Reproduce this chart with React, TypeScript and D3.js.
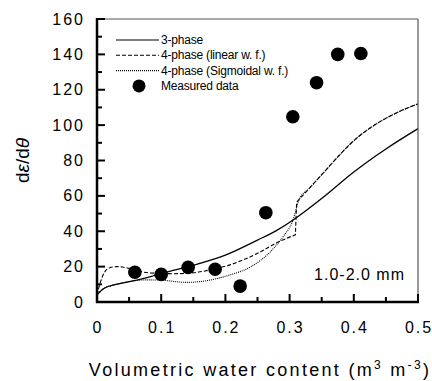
import { useEffect, useRef } from 'react'
import * as d3 from 'd3'

// 3-phase model
const threePhaseX = [0, 0.01, 0.03, 0.05, 0.075, 0.09, 0.12, 0.15, 0.2, 0.25, 0.28, 0.31, 0.35, 0.4, 0.45, 0.5]
const threePhaseY = [4, 7.5, 10, 11.5, 13.5, 15, 18, 20.8, 26.5, 35, 40.5, 47.5, 58.5, 73.5, 86.5, 98]

// 4-phase, linear weighting function (jumps at 0.31)
const linearX = [0, 0.006, 0.012, 0.02, 0.032, 0.05, 0.065, 0.08, 0.1, 0.12, 0.15, 0.18, 0.207, 0.25, 0.28, 0.309, 0.311, 0.33, 0.355, 0.38, 0.404, 0.43, 0.467, 0.5]
const linearY = [4, 12, 17, 19.4, 20, 19, 17.5, 16.5, 16.2, 16, 16.5, 18.5, 21, 27.5, 33.5, 38, 56.5, 64, 74, 84, 92.5, 99.5, 107, 112]

// 4-phase, sigmoidal weighting function
const sigmoidX = [0, 0.01, 0.03, 0.05, 0.075, 0.1, 0.12, 0.14, 0.16, 0.176, 0.207, 0.24, 0.27, 0.29, 0.305, 0.315, 0.33, 0.355, 0.38, 0.404, 0.43, 0.467, 0.5]
const sigmoidY = [4, 7.5, 10, 11.5, 12.5, 12.4, 11.6, 11.1, 11.5, 12.4, 15.3, 20, 28.4, 37, 46, 58, 64, 74, 84, 92.5, 99.5, 107, 112]

// measured data
const measuredX = [0.059, 0.1, 0.142, 0.184, 0.223, 0.263, 0.305, 0.342, 0.375, 0.411]
const measuredY = [16.8, 15.6, 19.6, 18.5, 9, 50.5, 104.7, 124, 140, 140.5]

const xTicks = [0, 0.1, 0.2, 0.3, 0.4, 0.5]
const yTicks = [0, 20, 40, 60, 80, 100, 120, 140, 160]

const legendItems = [
  { label: '3-phase', dash: null, marker: false },
  { label: '4-phase (linear w. f.)', dash: '4,2', marker: false },
  { label: '4-phase (Sigmoidal w. f.)', dash: '1,1', marker: false },
  { label: 'Measured data', dash: null, marker: true }
]

const W = 432
const H = 381
const FONT = 'Liberation Sans, Arial, sans-serif'

export default function App() {
  const svgRef = useRef<SVGSVGElement>(null)

  useEffect(() => {
    if (!svgRef.current) return
    const svg = d3.select(svgRef.current)
    svg.selectAll('*').remove()

    const margin = { top: 19, right: 14, bottom: 79, left: 97 }
    const x = d3.scaleLinear().domain([0, 0.5]).range([margin.left, W - margin.right])
    const y = d3.scaleLinear().domain([0, 160]).range([H - margin.bottom, margin.top])

    const line = d3.line<[number, number]>()
      .x(d => x(d[0]))
      .y(d => y(d[1]))
      .curve(d3.curveMonotoneX)

    // split at jumps so the spline does not wobble around them
    const pathFor = (pts: [number, number][]) => {
      const runs: [number, number][][] = [[pts[0]]]
      for (let i = 1; i < pts.length; i++) {
        if (pts[i][0] - pts[i - 1][0] < 0.004) runs.push([])
        runs[runs.length - 1].push(pts[i])
      }
      return runs.map((r, i) => {
        const d = line(r) || ''
        return i === 0 ? d : 'L' + d.slice(1)
      }).join('')
    }

    const series = [
      { xs: threePhaseX, ys: threePhaseY, dash: null },
      { xs: linearX, ys: linearY, dash: '4,2' },
      { xs: sigmoidX, ys: sigmoidY, dash: '1,1' }
    ]

    series.forEach(s => {
      const pts = s.xs.map((v, i) => [v, s.ys[i]] as [number, number])
      svg.append('path')
        .attr('d', pathFor(pts))
        .style('fill', 'none')
        .style('stroke', '#000')
        .style('stroke-width', s.dash ? '1.1px' : '1.3px')
        .style('stroke-dasharray', s.dash ?? 'none')
    })

    // Measured points
    svg.selectAll('.pt')
      .data(measuredX.map((v, i) => [v, measuredY[i]]))
      .join('circle')
      .attr('class', 'pt')
      .attr('cx', d => x(d[0]))
      .attr('cy', d => y(d[1]))
      .attr('r', 6.8)
      .style('fill', '#000')

    // Frame: thin top/right, thick left/bottom
    svg.append('line')
      .attr('x1', x(0)).attr('x2', x(0.5)).attr('y1', y(160)).attr('y2', y(160))
      .style('stroke', '#555').style('stroke-width', '1px')
    svg.append('line')
      .attr('x1', x(0.5)).attr('x2', x(0.5)).attr('y1', y(160)).attr('y2', y(0))
      .style('stroke', '#555').style('stroke-width', '1.2px')

    // Minor / major ticks
    d3.range(10, 160, 20).forEach(v => {
      svg.append('line')
        .attr('x1', x(0)).attr('x2', x(0) + 5).attr('y1', y(v)).attr('y2', y(v))
        .style('stroke', '#000').style('stroke-width', '2px')
    })
    yTicks.forEach(v => {
      svg.append('line')
        .attr('x1', x(0)).attr('x2', x(0) + 8).attr('y1', y(v)).attr('y2', y(v))
        .style('stroke', '#000').style('stroke-width', '2px')
      svg.append('text')
        .attr('x', x(0) - 12)
        .attr('y', y(v) + 5.5)
        .attr('text-anchor', 'end')
        .style('font-family', FONT)
        .style('font-size', '16px')
        .style('letter-spacing', '2px')
        .style('fill', '#000')
        .text(v)
    })
    d3.range(0.05, 0.5, 0.1).forEach(v => {
      svg.append('line')
        .attr('x1', x(v)).attr('x2', x(v)).attr('y1', y(0)).attr('y2', y(0) - 5)
        .style('stroke', '#000').style('stroke-width', '2px')
    })
    xTicks.forEach(v => {
      svg.append('line')
        .attr('x1', x(v)).attr('x2', x(v)).attr('y1', y(0)).attr('y2', y(0) - 8)
        .style('stroke', '#000').style('stroke-width', '2px')
      svg.append('text')
        .attr('x', x(v) + 1)
        .attr('y', y(0) + 31)
        .attr('text-anchor', 'middle')
        .style('font-family', FONT)
        .style('font-size', '16px')
        .style('letter-spacing', '2px')
        .style('fill', '#000')
        .text(v === 0 ? '0' : String(v))
    })

    svg.append('line')
      .attr('x1', x(0)).attr('x2', x(0)).attr('y1', y(160) - 1).attr('y2', y(0) + 1)
      .style('stroke', '#000').style('stroke-width', '2.5px')
    svg.append('line')
      .attr('x1', x(0) - 1).attr('x2', x(0.5) + 1).attr('y1', y(0)).attr('y2', y(0))
      .style('stroke', '#000').style('stroke-width', '2.5px')

    // Axis titles
    const xt = svg.append('text')
      .attr('x', 260)
      .attr('y', 376)
      .attr('text-anchor', 'middle')
      .style('font-family', FONT)
      .style('font-size', '18px')
      .style('letter-spacing', '2.3px')
      .style('fill', '#000')
    xt.append('tspan').text('Volumetric water content (m')
    xt.append('tspan').attr('dy', -7).style('font-size', '12px').text('3')
    xt.append('tspan').attr('dy', 7).text(' m')
    xt.append('tspan').attr('dy', -7).style('font-size', '12px').text('-3')
    xt.append('tspan').attr('dy', 7).text(')')

    const yt = svg.append('text')
      .attr('transform', `translate(29,${(y(0) + y(160)) / 2}) rotate(-90)`)
      .attr('text-anchor', 'middle')
      .style('font-family', FONT)
      .style('font-size', '19px')
      .style('fill', '#000')
    yt.append('tspan').text('d')
    yt.append('tspan').style('font-style', 'italic').text('ε')
    yt.append('tspan').text('/d')
    yt.append('tspan').style('font-style', 'italic').text('θ')

    // Annotation
    svg.append('text')
      .attr('x', 405)
      .attr('y', 280)
      .attr('text-anchor', 'end')
      .style('font-family', FONT)
      .style('font-size', '16px')
      .style('letter-spacing', '1px')
      .style('fill', '#000')
      .text('1.0-2.0 mm')

    // Legend
    legendItems.forEach((item, i) => {
      const ly = 40 + i * 15.3
      if (item.marker) {
        svg.append('circle')
          .attr('cx', 139).attr('cy', ly).attr('r', 6.5)
          .style('fill', '#000')
      } else {
        svg.append('line')
          .attr('x1', 116).attr('x2', 159).attr('y1', ly).attr('y2', ly)
          .style('stroke', '#000')
          .style('stroke-width', '1.1px')
          .style('stroke-dasharray', item.dash ?? 'none')
      }
      svg.append('text')
        .attr('x', 161)
        .attr('y', ly + 4)
        .style('font-family', FONT)
        .style('font-size', '12px')
        .style('letter-spacing', '-0.2px')
        .style('fill', '#000')
        .text(item.label)
    })
  }, [])

  return (
    <svg
      ref={svgRef}
      width={W}
      height={H}
      style={{ position: 'absolute', left: 0, top: 0, background: '#fff' }}
    />
  )
}
